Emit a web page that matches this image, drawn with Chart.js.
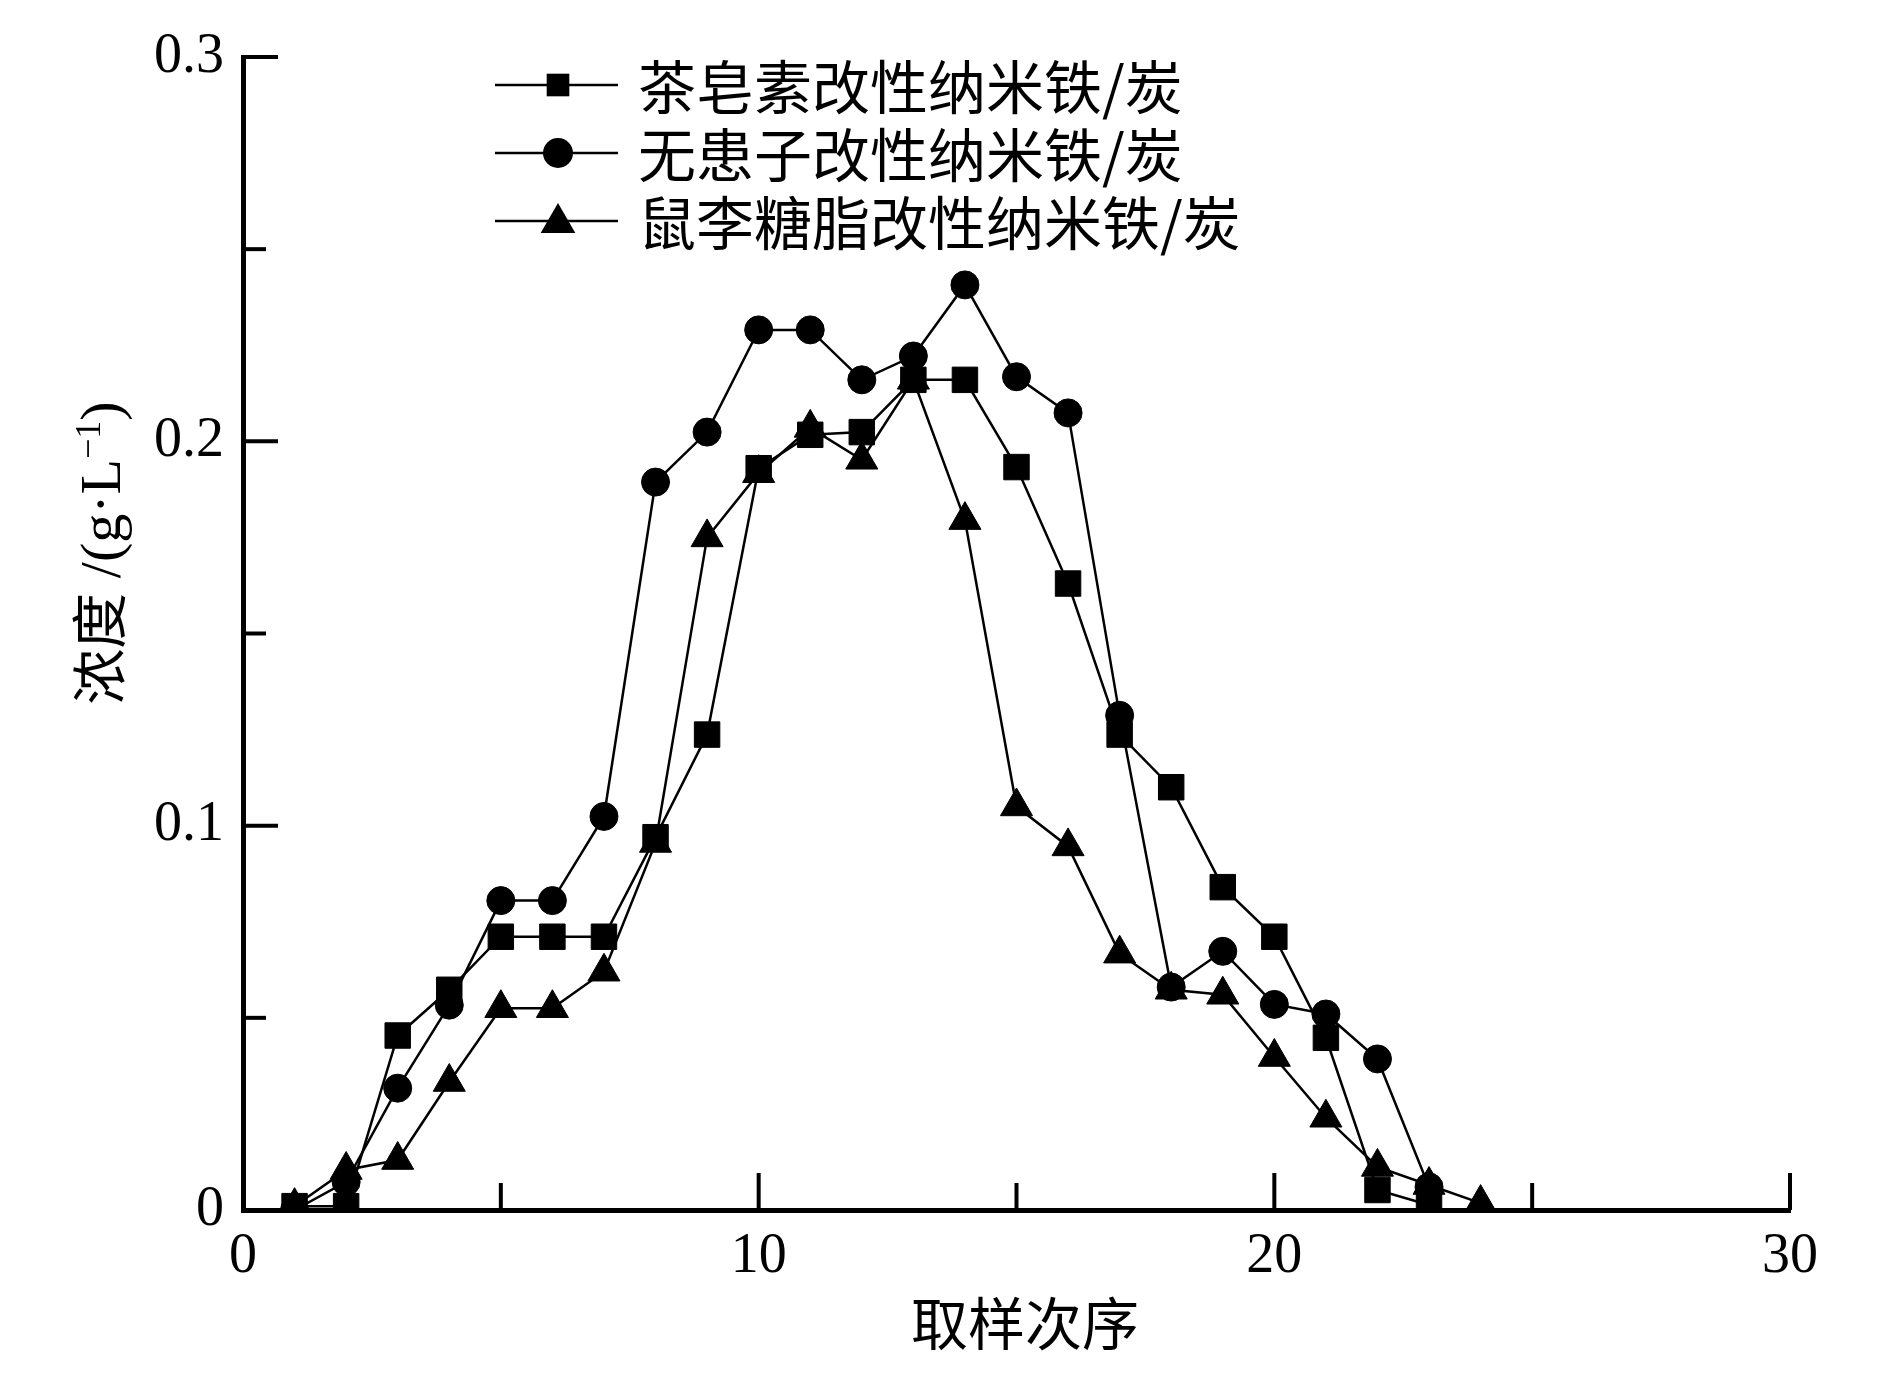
<!DOCTYPE html>
<html>
<head>
<meta charset="utf-8">
<script src="https://cdn.jsdelivr.net/npm/chart.js@4.4.0/dist/chart.umd.min.js"></script>
<style>
html,body{margin:0;padding:0;background:#fff;}
#wrap{width:1887px;height:1392px;position:relative;}
</style>
</head>
<body>
<div id="wrap"><canvas id="c"></canvas></div>
<script>
// ---- data ----
const samples = [1,2,3,4,5,6,7,8,9,10,11,12,13,14,15,16,17,18,19,20,21,22,23,24];
const seriesNames = ['茶皂素改性纳米铁/炭','无患子改性纳米铁/炭','鼠李糖脂改性纳米铁/炭'];
const teaSaponin = [0.001,0.001,0.0454,0.0573,0.0711,0.0711,0.0711,0.097,0.1237,0.193,0.2017,0.2024,0.216,0.216,0.1933,0.163,0.1237,0.110,0.084,0.0711,0.0448,0.0052,0.0013,null];
const soapnut = [0,0.0073,0.0317,0.0533,0.0805,0.0805,0.1024,0.1894,0.2024,0.229,0.229,0.216,0.2222,0.2407,0.2168,0.2074,0.1287,0.058,0.0673,0.0535,0.051,0.0393,0.006,null];
const rhamnolipid = [0.001,0.0104,0.013,0.0333,0.0525,0.0525,0.062,0.0955,0.175,0.1917,0.2035,0.1952,0.216,0.1795,0.105,0.0946,0.0667,0.0573,0.056,0.0398,0.024,0.0112,0.0065,0.0018];
const xTickLabels = [0,10,20,30];
const yTickLabels = [0,0.1,0.2,0.3];
const xMinorTicks = [5,15,25];
const yMinorTicks = [0.05,0.15,0.25];
const xTitle = '取样次序';

const pts = arr => samples.map((x,i)=>({x:x,y:arr[i]}));

const CJK = '"Noto Sans CJK SC"';
const SERIF = '"Liberation Serif","Times New Roman",serif';

function marker(ctx, style, x, y, r){
  ctx.beginPath();
  if(style==='rect'){
    const s=r*Math.SQRT1_2; ctx.rect(x-s,y-s,2*s,2*s);
  } else if(style==='circle'){
    ctx.arc(x,y,r,0,Math.PI*2);
  } else {
    const a=Math.PI*2/3;
    ctx.moveTo(x, y-r);
    ctx.lineTo(x+Math.sin(a)*r, y-Math.cos(a)*r);
    ctx.lineTo(x+Math.sin(2*a)*r, y-Math.cos(2*a)*r);
    ctx.closePath();
  }
  ctx.fill();
}

const decor = {
  id:'decor',
  afterDraw(chart){
    const ctx=chart.ctx, xs=chart.scales.x, ys=chart.scales.y, a=chart.chartArea;
    ctx.save();
    ctx.strokeStyle='#000'; ctx.fillStyle='#000'; ctx.lineWidth=4;
    // inward ticks
    yTickLabels.forEach(v=>{ if(v===0) return; const p=ys.getPixelForValue(v); ctx.beginPath(); ctx.moveTo(a.left,p); ctx.lineTo(a.left+35,p); ctx.stroke(); });
    yMinorTicks.forEach(v=>{ const p=ys.getPixelForValue(v); ctx.beginPath(); ctx.moveTo(a.left,p); ctx.lineTo(a.left+23,p); ctx.stroke(); });
    xTickLabels.forEach(v=>{ if(v===0) return; const p=xs.getPixelForValue(v); ctx.beginPath(); ctx.moveTo(p,a.bottom); ctx.lineTo(p,a.bottom-37); ctx.stroke(); });
    xMinorTicks.forEach(v=>{ const p=xs.getPixelForValue(v); ctx.beginPath(); ctx.moveTo(p,a.bottom); ctx.lineTo(p,a.bottom-27); ctx.stroke(); });

    // legend
    const rows=[85,153,221], styles=['rect','circle','triangle'], radii=[16,15,20];
    chart.data.datasets.forEach((ds,i)=>{
      const y=rows[i];
      ctx.lineWidth=2.5;
      ctx.beginPath(); ctx.moveTo(495,y); ctx.lineTo(618,y); ctx.stroke();
      marker(ctx, styles[i], 558, styles[i]==='triangle'? y+2 : y, radii[i]);
      ctx.font='58px '+CJK; ctx.textBaseline='middle'; ctx.textAlign='left';
      ctx.fillText(ds.label, 638, y+2);
    });

    // x title
    ctx.font='57px '+CJK; ctx.textAlign='center'; ctx.textBaseline='middle';
    ctx.fillText(xTitle, 1025, 1323);

    // y title (rotated)
    ctx.save();
    ctx.translate(100,553); ctx.rotate(-Math.PI/2);
    const parts=[
      {t:'浓度',f:'56px '+CJK,dy:0},
      {t:' /(g·L',f:'58px '+SERIF,dy:0},
      {t:'−1',f:'36px '+SERIF,dy:-20},
      {t:')',f:'58px '+SERIF,dy:0}
    ];
    let total=0; parts.forEach(p=>{ctx.font=p.f; p.w=ctx.measureText(p.t).width; total+=p.w;});
    let x=-total/2;
    ctx.textAlign='left'; ctx.textBaseline='alphabetic';
    parts.forEach(p=>{ctx.font=p.f; ctx.fillText(p.t,x,20+p.dy); x+=p.w;});
    ctx.restore();
    ctx.restore();
  }
};

const common = {borderColor:'#000', backgroundColor:'#000', borderWidth:2.5, pointBackgroundColor:'#000', pointBorderColor:'#000', pointBorderWidth:1, tension:0, spanGaps:false};

new Chart(document.getElementById('c'), {
  type:'line',
  data:{datasets:[
    Object.assign({label:seriesNames[0], data:pts(teaSaponin), pointStyle:'rect', pointRadius:18, order:0}, common),
    Object.assign({label:seriesNames[1], data:pts(soapnut), pointStyle:'circle', pointRadius:14, order:2}, common),
    Object.assign({label:seriesNames[2], data:pts(rhamnolipid), pointStyle:'triangle', pointRadius:18.5, order:1}, common)
  ]},
  options:{
    responsive:true, maintainAspectRatio:false, animation:false, devicePixelRatio:1,
    layout:{padding:{left:143, top:57, right:97, bottom:102}},
    plugins:{legend:{display:false}, tooltip:{enabled:false}},
    scales:{
      x:{type:'linear', min:0, max:30,
        afterFit(s){s.height=80;},
        afterBuildTicks(s){s.ticks=xTickLabels.map(v=>({value:v}));},
        grid:{display:false, drawTicks:false},
        border:{display:true, color:'#000', width:5},
        ticks:{color:'#000', font:{family:SERIF,size:56}, padding:14, maxRotation:0, callback:v=>String(v)}
      },
      y:{type:'linear', min:0, max:0.3,
        afterFit(s){s.width=100;},
        afterBuildTicks(s){s.ticks=yTickLabels.map(v=>({value:v}));},
        grid:{display:false, drawTicks:false},
        border:{display:true, color:'#000', width:5},
        ticks:{color:'#000', font:{family:SERIF,size:56}, padding:19, callback:v=>String(Math.round(v*10)/10)}
      }
    }
  },
  plugins:[decor]
});
</script>
</body>
</html>
